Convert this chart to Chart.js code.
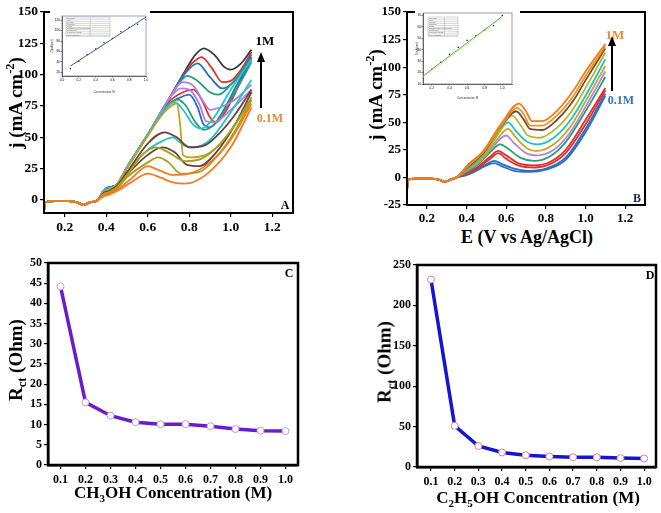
<!DOCTYPE html>
<html>
<head>
<meta charset="utf-8">
<script src="https://cdn.jsdelivr.net/npm/chart.js@4.4.1/dist/chart.umd.min.js"></script>
<style>
body { margin: 0; background: #fff; }
#fig { position: relative; width: 661px; height: 513px; overflow: hidden; font-family: 'Liberation Serif', 'Times New Roman', serif; font-weight: bold; color: #000; }
canvas { position: absolute; }
.t { position: absolute; white-space: nowrap; line-height: 1; transform: translate(-50%, -50%); }
.r { transform: translate(-50%, -50%) rotate(-90deg); }
sup, sub { font-size: 65%; line-height: 0; }
svg { position: absolute; left: 0; top: 0; }
</style>
</head>
<body>
<div id="fig">
  <canvas id="cA" width="300" height="235" style="left:0;top:0"></canvas>
  <canvas id="cB" width="331" height="225" style="left:330px;top:0"></canvas>
  <canvas id="cC" width="305" height="263" style="left:0;top:250px"></canvas>
  <canvas id="cD" width="331" height="263" style="left:330px;top:250px"></canvas>
  <canvas id="iA" width="100" height="86" style="left:50px;top:8px"></canvas>
  <canvas id="iB" width="105" height="92" style="left:415px;top:8px"></canvas>

  <div class="t r" style="left:15px;top:103px;font-size:19px">j (mA cm<sup>-2</sup>)</div>
  <div class="t r" style="left:375px;top:95px;font-size:19px">j (mA cm<sup>-2</sup>)</div>
  <div class="t" style="left:527px;top:237px;font-size:18px">E (V vs Ag/AgCl)</div>
  <div class="t r" style="left:15px;top:360px;font-size:19px">R<sub>ct</sub> (Ohm)</div>
  <div class="t" style="left:173px;top:492px;font-size:17px">CH<sub>3</sub>OH Concentration (M)</div>
  <div class="t r" style="left:384px;top:362px;font-size:19px">R<sub>ct</sub> (Ohm)</div>
  <div class="t" style="left:538px;top:497px;font-size:17px">C<sub>2</sub>H<sub>5</sub>OH Concentration (M)</div>

  <div class="t" style="left:285px;top:205px;font-size:12px">A</div>
  <div class="t" style="left:637px;top:198px;font-size:12px;color:#1a2a5a">B</div>
  <div class="t" style="left:289px;top:273px;font-size:12px">C</div>
  <div class="t" style="left:650px;top:275px;font-size:12px">D</div>

  <div class="t" style="left:265px;top:40px;font-size:13px">1M</div>
  <div class="t" style="left:270px;top:118px;font-size:12px;color:#f08a2c">0.1M</div>
  <div class="t" style="left:615px;top:34px;font-size:13px;color:#f08a2c">1M</div>
  <div class="t" style="left:621px;top:100px;font-size:12px;color:#3474c4">0.1M</div>

  <svg width="661" height="513">
    <line x1="261" y1="108" x2="261" y2="60" stroke="#000" stroke-width="2"/>
    <polygon points="261,52 257,62 265,62" fill="#000"/>
    <line x1="612" y1="91" x2="612" y2="44" stroke="#000" stroke-width="2"/>
    <polygon points="612,36 608,46 616,46" fill="#000"/>
  </svg>
</div>
<script>
// ---- panel A : CH3OH CVs (E in V, j in mA cm-2) ----
const baseA = [[0.1,-9],[0.105,-2],[0.15,-1],[0.22,-1],[0.26,-2],[0.29,-4],[0.32,-2],[0.36,0]];
const aOrange1 = [[0.39,4],[0.41,5],[0.45,8],[0.52,17],[0.6,27],[0.65,24],[0.72,20],[0.8,21],[0.9,30],[1.0,48],[1.1,77]];
const aOrange2 = [[0.39,3],[0.41,4],[0.45,7],[0.52,14],[0.6,21],[0.66,18],[0.72,14],[0.78,13],[0.88,20],[1.0,42],[1.1,74]];
const aOlive1 = [[0.39,5],[0.41,6],[0.45,10],[0.5,20],[0.58,37],[0.64,42],[0.7,38],[0.78,31],[0.86,33],[0.95,45],[1.02,60],[1.1,82]];
const aOlive2 = [[0.39,5],[0.41,6],[0.45,9],[0.5,18],[0.6,30],[0.65,34],[0.7,30],[0.76,21],[0.84,22],[0.94,36],[1.02,55],[1.1,80]];
const aBrown1 = [[0.39,6],[0.41,7],[0.45,11],[0.5,22],[0.6,45],[0.68,54],[0.74,50],[0.8,42],[0.88,44],[0.95,54],[1.02,68],[1.1,88]];
const aBrown2 = [[0.39,5],[0.41,6],[0.45,10],[0.5,20],[0.6,36],[0.67,42],[0.73,38],[0.79,28],[0.85,27],[0.93,38],[1.02,60],[1.1,86]];
const aGold1 = [[0.39,7],[0.41,8],[0.45,12],[0.5,25],[0.6,51],[0.68,70],[0.74,77],[0.755,62],[0.77,36],[0.8,34],[0.88,36],[0.95,45],[1.02,60],[1.1,80]];
const aCyan1 = [[0.39,8],[0.41,9],[0.45,12],[0.5,26],[0.6,52],[0.68,72],[0.73,78],[0.77,72],[0.82,60],[0.86,57],[0.92,66],[1.0,88],[1.1,112]];
const aCyan2 = [[0.39,7],[0.41,8],[0.45,11],[0.5,22],[0.6,40],[0.67,47],[0.72,50],[0.77,44],[0.82,42],[0.9,48],[1.0,70],[1.1,96]];
const aPurple1 = [[0.39,8],[0.41,9],[0.45,12],[0.5,26],[0.6,52],[0.7,80],[0.77,94],[0.82,91],[0.87,78],[0.9,72],[0.95,74],[1.02,80],[1.1,92]];
const aPurple2 = [[0.39,8],[0.41,9],[0.45,12],[0.5,26],[0.6,52],[0.7,80],[0.76,89],[0.8,88],[0.85,76],[0.88,63],[0.92,62],[1.0,72],[1.1,88]];
const aTeal1 = [[0.39,8],[0.41,10],[0.45,12],[0.5,26],[0.6,52],[0.7,80],[0.75,93],[0.79,99],[0.84,95],[0.9,86],[0.94,84],[1.0,92],[1.1,113]];
const aTeal2 = [[0.39,8],[0.41,9],[0.45,12],[0.5,26],[0.6,52],[0.68,72],[0.74,80],[0.78,76],[0.83,62],[0.87,56],[0.93,62],[1.0,80],[1.1,110]];
const aBlue1 = [[0.39,8],[0.41,10],[0.45,12],[0.5,26],[0.6,52],[0.7,80],[0.78,101],[0.84,109],[0.9,98],[0.96,89],[1.0,92],[1.05,102],[1.1,116]];
const aBlue2 = [[0.39,8],[0.41,9],[0.45,12],[0.5,26],[0.6,52],[0.7,76],[0.76,82],[0.8,84],[0.84,74],[0.87,60],[0.9,58],[0.96,70],[1.03,92],[1.1,112]];
const aRed1 = [[0.39,8],[0.41,10],[0.45,12],[0.5,26],[0.6,52],[0.7,80],[0.78,102],[0.82,110],[0.86,114],[0.91,105],[0.96,94],[1.0,95],[1.05,104],[1.1,118]];
const aRed2 = [[0.39,8],[0.41,9],[0.45,12],[0.5,26],[0.6,52],[0.7,78],[0.77,86],[0.82,88],[0.86,80],[0.9,66],[0.93,62],[0.98,72],[1.04,92],[1.1,114]];
const aBlack1 = [[0.39,8],[0.41,10],[0.45,12],[0.5,26],[0.6,52],[0.7,80],[0.78,103],[0.83,116],[0.87,121],[0.92,116],[0.97,106],[1.0,104],[1.05,109],[1.1,120]];

// ---- panel B : C2H5OH CVs ----
const baseB = [[0.1,-12],[0.105,-2],[0.15,-1],[0.22,-1],[0.26,-2],[0.29,-4],[0.32,-2],[0.35,0]];
const bBlue1 = [[0.4,3],[0.46,8],[0.5,12],[0.54,15],[0.58,12],[0.64,8],[0.72,6],[0.8,8],[0.9,18],[1.0,44],[1.1,76]];
const bBlue2 = [[0.4,2],[0.46,7],[0.5,11],[0.54,13],[0.58,10],[0.64,6],[0.72,5],[0.8,7],[0.9,16],[1.0,41],[1.1,74]];
const bRed1 = [[0.4,4],[0.46,10],[0.52,19],[0.56,24],[0.6,20],[0.66,13],[0.74,11],[0.82,14],[0.9,25],[1.0,52],[1.1,81]];
const bRed2 = [[0.4,3],[0.46,9],[0.52,17],[0.56,22],[0.6,17],[0.66,11],[0.74,9],[0.82,12],[0.9,22],[1.0,48],[1.1,79]];
const bGreen = [[0.4,5],[0.46,12],[0.52,23],[0.57,30],[0.61,26],[0.67,18],[0.74,15],[0.82,19],[0.9,32],[1.0,60],[1.1,91]];
const bPurple = [[0.4,6],[0.46,13],[0.53,27],[0.6,38],[0.64,31],[0.7,22],[0.76,20],[0.84,25],[0.92,40],[1.0,64],[1.1,96]];
const bGold = [[0.41,8],[0.47,15],[0.54,31],[0.61,44],[0.65,36],[0.7,27],[0.76,24],[0.84,30],[0.92,45],[1.0,69],[1.1,101]];
const bCyan = [[0.41,9],[0.47,17],[0.54,34],[0.61,50],[0.65,42],[0.7,33],[0.76,30],[0.84,36],[0.92,51],[1.0,74],[1.1,107]];
const bOlive = [[0.41,10],[0.48,20],[0.56,40],[0.63,56],[0.67,48],[0.71,38],[0.77,36],[0.85,44],[0.93,60],[1.0,81],[1.1,113]];
const bBrown = [[0.41,10],[0.48,21],[0.57,45],[0.65,60],[0.69,52],[0.72,44],[0.78,43],[0.86,53],[0.94,70],[1.0,88],[1.1,117]];
const bAmber = [[0.41,11],[0.48,22],[0.58,48],[0.655,63],[0.69,57],[0.72,47],[0.78,47],[0.86,57],[0.94,74],[1.0,92],[1.1,119]];
const bOrange = [[0.41,12],[0.48,23],[0.58,50],[0.665,67],[0.7,60],[0.73,51],[0.78,51],[0.86,61],[0.94,79],[1.0,96],[1.1,121]];

// ---- panels C, D : Rct vs concentration ----
const concM = [0.1, 0.2, 0.3, 0.4, 0.5, 0.6, 0.7, 0.8, 0.9, 1.0];
const rctMeOH = [44.2, 15.5, 12.2, 10.6, 10.1, 10.1, 9.6, 8.9, 8.5, 8.4];
const rctEtOH = [232, 51, 26, 18, 14.5, 13, 12, 12, 11, 10.5];

// ---- insets : peak j vs concentration ----
const insetJA = [27, 41, 54, 65, 77, 85, 98, 106, 112, 121];
const insetFitA = [[0.1, 32], [1.0, 126]];
const insetJB = [15, 23, 29, 36, 42, 48, 52, 57, 61, 70];
const insetFitB = [[0.1, 17], [1.0, 69]];
const insetFitB2 = [[0.1, 16], [1.0, 68]];

// ---- tick labels ----
const ticksE = [0.2, 0.4, 0.6, 0.8, 1.0, 1.2];
const ticksJA = [0, 25, 50, 75, 100, 125, 150];
const ticksJB = [-25, 0, 25, 50, 75, 100, 125, 150];
const ticksRctC = [0, 5, 10, 15, 20, 25, 30, 35, 40, 45, 50];
const ticksRctD = [0, 50, 100, 150, 200, 250];
const ticksInsetAx = [0.0, 0.2, 0.4, 0.6, 0.8, 1.0];
const ticksInsetAy = [20, 40, 60, 80, 100, 120];
const ticksInsetBx = [0.2, 0.4, 0.6, 0.8, 1.0];
const ticksInsetBy = [10, 20, 30, 40, 50, 60, 70];

const fitRows = ['Equation', 'Plot', 'Weight', 'Intercept', 'Slope', 'Residual Sum of Squares', "Pearson's r", 'R-Square (COD)', 'Adj. R-Square'];

const colA = { orange:'#f47c20', olive:'#a3a21c', brown:'#6e3f3f', gold:'#c9a118', cyan:'#1cc6cb',
  purple:'#b27ee2', teal:'#2a9a7c', blue:'#1f6fc9', red:'#e5302a', black:'#3a3a3a' };
const colB = { blue:'#2b6fc4', red:'#e0302c', green:'#2f9e6e', purple:'#b484e0', gold:'#c9a71f',
  cyan:'#1dc2c6', olive:'#b6b726', brown:'#7a4636', amber:'#e39a1a', orange:'#f4791f' };

// first entry is drawn on top
const seriesA = [
  [aOrange1, colA.orange], [aOrange2, colA.orange], [aOlive1, colA.olive], [aOlive2, colA.olive],
  [aBrown1, colA.brown], [aBrown2, colA.brown], [aGold1, colA.gold], [aCyan1, colA.cyan], [aCyan2, colA.cyan],
  [aPurple1, colA.purple], [aPurple2, colA.purple], [aTeal1, colA.teal], [aTeal2, colA.teal],
  [aBlue1, colA.blue], [aBlue2, colA.blue], [aRed1, colA.red], [aRed2, colA.red], [aBlack1, colA.black]
];
const seriesB = [
  [bOrange, colB.orange], [bAmber, colB.amber], [bBrown, colB.brown], [bOlive, colB.olive], [bCyan, colB.cyan],
  [bGold, colB.gold], [bPurple, colB.purple], [bGreen, colB.green], [bRed1, colB.red], [bRed2, colB.red],
  [bBlue1, colB.blue], [bBlue2, colB.blue]
];

const toXY = arr => arr.map(([x, y]) => ({ x, y }));
const cvSets = (list, base) => list.map(([pts, c]) => ({
  data: toXY(base.concat(pts)), showLine: true, borderColor: c, borderWidth: 1.8,
  pointRadius: 0, cubicInterpolationMode: 'monotone', clip: false
}));

const frame = {
  id: 'frame',
  afterDraw(chart, args, opts) {
    const { ctx, chartArea: a } = chart;
    ctx.save();
    ctx.strokeStyle = opts.color || '#000';
    ctx.lineWidth = opts.width || 2;
    ctx.strokeRect(a.left, a.top, a.right - a.left, a.bottom - a.top);
    ctx.restore();
  }
};
const whiteBg = {
  id: 'whiteBg',
  beforeDraw(chart) {
    const ctx = chart.ctx;
    ctx.save();
    ctx.fillStyle = '#fff';
    ctx.fillRect(0, 0, chart.width, chart.height);
    ctx.restore();
  }
};
const fitTable = {
  id: 'fitTable',
  afterDraw(chart, args, opts) {
    const { ctx, chartArea: a } = chart;
    const x0 = a.left + opts.dx, y0 = a.top + opts.dy;
    ctx.save();
    ctx.fillStyle = '#fff';
    ctx.fillRect(x0, y0, opts.w, opts.h);
    ctx.strokeStyle = '#999';
    ctx.lineWidth = 0.4;
    ctx.strokeRect(x0, y0, opts.w, opts.h);
    ctx.font = '2px Arial';
    ctx.fillStyle = '#666';
    const rh = opts.h / fitRows.length;
    fitRows.forEach((r, i) => {
      ctx.fillText(r, x0 + 1, y0 + rh * (i + 0.8));
      ctx.beginPath();
      ctx.moveTo(x0, y0 + rh * (i + 1));
      ctx.lineTo(x0 + opts.w, y0 + rh * (i + 1));
      ctx.stroke();
    });
    ctx.beginPath();
    ctx.moveTo(x0 + opts.w * 0.55, y0);
    ctx.lineTo(x0 + opts.w * 0.55, y0 + opts.h);
    ctx.stroke();
    ctx.restore();
  }
};

function axis(a) {
  return {
    type: 'linear', min: a.min, max: a.max,
    afterBuildTicks: s => { s.ticks = a.ticks.map(v => ({ value: v })); },
    afterFit: s => { if (a.horiz) s.height = a.size; else s.width = a.size; },
    border: { display: true, color: '#000', width: a.bw || 2 },
    grid: { drawOnChartArea: false, color: '#000', tickLength: a.tl || 4, lineWidth: a.tw || 1.2 },
    title: a.title ? { display: true, text: a.title, color: '#333', font: { family: 'Arial', size: a.fs * 0.9 }, padding: 0 } : { display: false },
    ticks: {
      color: '#000', padding: a.tp == null ? 2 : a.tp, autoSkip: false, maxRotation: 0,
      font: { family: a.ff || 'Liberation Serif', weight: a.fw || 'bold', size: a.fs },
      callback: a.fmt
    }
  };
}

function makeChart(id, datasets, o, extra) {
  return new Chart(document.getElementById(id), {
    type: 'scatter',
    data: { datasets },
    options: {
      responsive: false, animation: false, events: [],
      layout: { padding: o.pad },
      plugins: Object.assign({ legend: { display: false }, tooltip: { enabled: false }, frame: o.frame }, o.plug || {}),
      scales: { x: axis(o.x), y: axis(o.y) }
    },
    plugins: [frame].concat(extra || [])
  });
}

const f1 = v => v.toFixed(1);
const f0 = v => String(v);

makeChart('cA', cvSets(seriesA, baseA), {
  pad: { top: 12, right: 7, left: 0, bottom: 0 }, frame: { width: 2 },
  x: { min: 0.1, max: 1.3, ticks: ticksE, horiz: true, size: 22, fs: 13.5, fmt: f1 },
  y: { min: -10.4, max: 150, ticks: ticksJA, horiz: false, size: 44, fs: 13.5, fmt: f0 }
});
makeChart('cB', cvSets(seriesB, baseB), {
  pad: { top: 12, right: 16, left: 0, bottom: 0 }, frame: { width: 2 },
  x: { min: 0.1, max: 1.3, ticks: ticksE, horiz: true, size: 20, fs: 13, fmt: f1 },
  y: { min: -25, max: 150, ticks: ticksJB, horiz: false, size: 77, fs: 13, fmt: f0 }
});

const rctSet = (vals, line, edge) => [{
  data: concM.map((c, i) => ({ x: c, y: vals[i] })), showLine: true, borderColor: line, borderWidth: 3.5,
  pointRadius: 3.5, pointBackgroundColor: '#fff', pointBorderColor: edge, pointBorderWidth: 1, tension: 0
}];
makeChart('cC', rctSet(rctMeOH, '#6a1ccc', '#c497e0'), {
  pad: { top: 13, right: 7, left: 0, bottom: 0 }, frame: { width: 2.5 },
  x: { min: 0.05, max: 1.05, ticks: concM, horiz: true, size: 48, fs: 12, fmt: f1, bw: 2.5, tp: 4 },
  y: { min: 0, max: 50, ticks: ticksRctC, horiz: false, size: 48, fs: 12, fmt: f0, bw: 2.5 }
});
makeChart('cD', rctSet(rctEtOH, '#1414d4', '#e07f98'), {
  pad: { top: 15, right: 3, left: 0, bottom: 0 }, frame: { width: 2.5 },
  x: { min: 0.041, max: 1.05, ticks: concM, horiz: true, size: 46, fs: 12, fmt: f1, bw: 2.5, tp: 4 },
  y: { min: 0, max: 250, ticks: ticksRctD, horiz: false, size: 87, fs: 12, fmt: f0, bw: 2.5 }
});

// insets
const small = { ff: 'Arial', fw: 'normal', bw: 0.6, tl: 1.5, tw: 0.5, tp: 0.5 };
makeChart('iA', [
  { data: toXY(insetFitA), showLine: true, borderColor: '#2c3f93', borderWidth: 0.9, pointRadius: 0 },
  { data: concM.map((c, i) => ({ x: c, y: insetJA[i] })), pointStyle: 'rect', pointRadius: 0.9, pointBackgroundColor: '#1b2a6e', pointBorderWidth: 0 }
], {
  pad: { top: 8, right: 3, left: 0, bottom: 0 }, frame: { width: 0.6, color: '#5a5a8a' },
  plug: { fitTable: { dx: 4, dy: 1, w: 44, h: 19 } },
  x: Object.assign({ min: 0, max: 1.0, ticks: ticksInsetAx, horiz: true, size: 18, fs: 3.2, fmt: f1, title: 'Concentration M' }, small),
  y: Object.assign({ min: 13, max: 128, ticks: ticksInsetAy, horiz: false, size: 12, fs: 3.2, fmt: f0, title: 'J(mA/cm²)' }, small)
}, [whiteBg, fitTable]);

makeChart('iB', [
  { data: toXY(insetFitB2), showLine: true, borderColor: '#e8e84a', borderWidth: 0.9, pointRadius: 0 },
  { data: toXY(insetFitB), showLine: true, borderColor: '#2aa39a', borderWidth: 0.9, pointRadius: 0 },
  { data: concM.map((c, i) => ({ x: c, y: insetJB[i] })), pointStyle: 'rect', pointRadius: 0.9, pointBackgroundColor: '#111', pointBorderWidth: 0 }
], {
  pad: { top: 5, right: 8, left: 0, bottom: 0 }, frame: { width: 0.6, color: '#5a5a5a' },
  plug: { fitTable: { dx: 5, dy: 4, w: 30, h: 19 } },
  x: Object.assign({ min: 0.1, max: 1.11, ticks: ticksInsetBx, horiz: true, size: 16, fs: 3.2, fmt: f1, title: 'Concentration M' }, small),
  y: Object.assign({ min: 10, max: 72, ticks: ticksInsetBy, horiz: false, size: 8, fs: 3.2, fmt: f0, title: 'J(mA/cm²)' }, small)
}, [whiteBg, fitTable]);
</script>
</body>
</html>
